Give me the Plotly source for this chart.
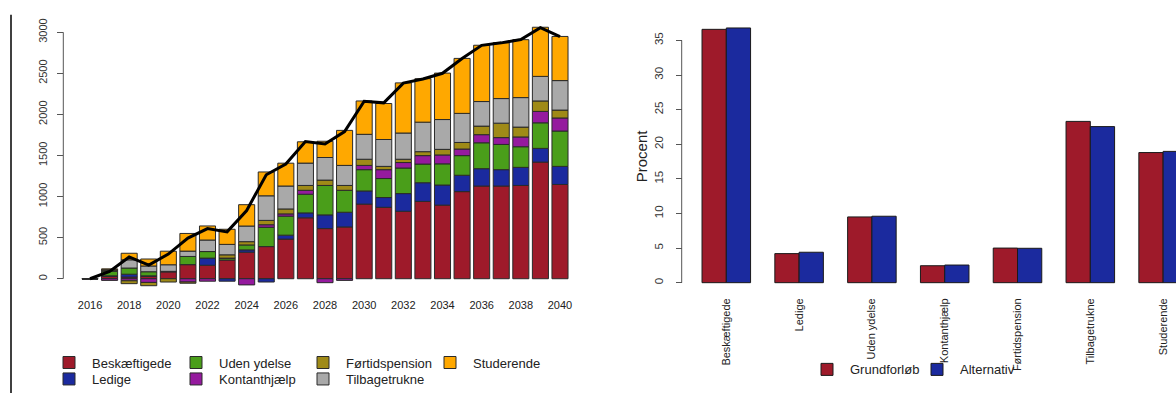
import plotly.graph_objects as go

# left chart: change in population by status, 2016-2040
years = list(range(2016, 2041))
beskaeftigede = [0, 30, 20, 30, 85, 172, 164, 227, 323, 391, 482, 741, 610, 630, 908, 869, 821, 941, 896, 1060, 1128, 1128, 1135, 1419, 1147]
ledige = [0, 5, 35, 5, 0, 0, 87, -30, 28, -40, 48, 60, 167, 179, 160, 119, 215, 227, 244, 199, 211, 199, 220, 167, 220]
uden_ydelse = [0, 55, 75, 50, 5, 99, 80, 24, 60, 235, 231, 227, 358, 267, 259, 231, 311, 227, 258, 239, 315, 307, 251, 311, 430]
kontanthjaelp = [0, -20, -25, -45, 0, -40, -30, 0, -75, 31, 28, 48, -48, -20, 52, 108, 67, 103, 108, 80, 99, 83, 119, 139, 159]
fortidspension = [0, 15, -35, -40, -40, -15, 0, 40, 40, 53, 60, 59, 65, 59, 75, 40, 40, 48, 68, 80, 104, 176, 120, 127, 96]
tilbagetrukne = [0, 5, 100, 70, 80, 65, 140, 127, 190, 299, 279, 272, 275, 244, 303, 327, 319, 359, 363, 354, 299, 299, 359, 299, 359]
studerende = [0, 10, 80, 85, 165, 215, 171, 184, 260, 290, 278, 259, 198, 426, 406, 438, 610, 529, 565, 669, 685, 681, 705, 598, 537]
total = [0, 90, 265, 165, 300, 495, 610, 570, 830, 1265, 1395, 1670, 1640, 1790, 2160, 2140, 2380, 2430, 2500, 2680, 2840, 2870, 2910, 3055, 2945]

# right chart: shares in percent
kategorier = ["Beskæftigede", "Ledige", "Uden ydelse", "Kontanthjælp",
              "Førtidspension", "Tilbagetrukne", "Studerende"]
grundforloeb = [36.6, 4.2, 9.5, 2.45, 5.0, 23.3, 18.8]
alternativ = [36.8, 4.4, 9.6, 2.55, 4.97, 22.55, 18.97]

RED = "#9e1a2a"
BLUE = "#1b2a9e"
GREEN = "#4a9e1a"
PURPLE = "#951a9e"
OLIVE = "#9f8a17"
GREY = "#a9a9a9"
ORANGE = "#ffa800"
FONT = "Liberation Sans, Arial, sans-serif"

W, H = 1176, 394

fig = go.Figure()

series = [
    ("Beskæftigede", beskaeftigede, RED, "legend", 1),
    ("Ledige", ledige, BLUE, "legend3", 5),
    ("Uden ydelse", uden_ydelse, GREEN, "legend", 2),
    ("Kontanthjælp", kontanthjaelp, PURPLE, "legend3", 6),
    ("Førtidspension", fortidspension, OLIVE, "legend", 3),
    ("Tilbagetrukne", tilbagetrukne, GREY, "legend3", 7),
    ("Studerende", studerende, ORANGE, "legend", 4),
]
for name, vals, col, leg, rank in series:
    fig.add_trace(go.Bar(
        x=years, y=vals, name=name, legend=leg, legendrank=rank,
        marker=dict(color=col, line=dict(color="#2a2a2a", width=1)),
        xaxis="x", yaxis="y",
    ))

fig.add_trace(go.Scatter(
    x=years, y=total, mode="lines", line=dict(color="black", width=3),
    showlegend=False, xaxis="x", yaxis="y",
))

fig.add_trace(go.Bar(
    x=kategorier, y=grundforloeb, name="Grundforløb", legend="legend2",
    base=[0] * len(kategorier), width=1 / 3, offset=-1 / 3,
    marker=dict(color=RED, line=dict(color="#1a1a1a", width=1)),
    xaxis="x2", yaxis="y2",
))
fig.add_trace(go.Bar(
    x=kategorier, y=alternativ, name="Alternativ", legend="legend2",
    base=[0] * len(kategorier), width=1 / 3, offset=0,
    marker=dict(color=BLUE, line=dict(color="#1a1a1a", width=1)),
    xaxis="x2", yaxis="y2",
))

left_axis = 63.3 / W
right_axis = 681.7 / W

legend_common = dict(
    orientation="h", xanchor="left", yanchor="middle",
    font=dict(family=FONT, size=13, color="#222"),
    bgcolor="rgba(0,0,0,0)", entrywidthmode="pixels", itemwidth=36,
)

fig.update_layout(
    width=W, height=H,
    margin=dict(l=0, r=0, t=0, b=0),
    paper_bgcolor="white", plot_bgcolor="white",
    barmode="relative", bargap=0.18,
    font=dict(family=FONT, color="#333"),
    xaxis=dict(
        domain=[76.3 / W, 573.7 / W], range=[2015.3, 2040.7],
        tickvals=years[::2], ticks="", showgrid=False, zeroline=False,
        showline=False, tickfont=dict(size=11, color="#222"), anchor="y",
        ticklabelstandoff=2,
    ),
    yaxis=dict(
        domain=[0.2528, 0.9536], range=[-200, 3100],
        anchor="free", position=left_axis,
        tickvals=[0, 500, 1000, 1500, 2000, 2500, 3000],
        ticks="outside", ticklen=6, tickcolor="#555", tickangle=-90,
        ticklabelstandoff=6,
        showgrid=False, zeroline=False, showline=False,
        tickfont=dict(size=11, color="#333"),
    ),
    xaxis2=dict(
        domain=[690 / W, 1.0], range=[-0.4986, 6.177], type="category",
        ticks="", tickangle=-90, showgrid=False, zeroline=False,
        showline=False, tickfont=dict(size=11, color="#222"), anchor="y2",
        ticklabelstandoff=9,
    ),
    yaxis2=dict(
        domain=[0.2761, 0.9558], range=[-0.5, 37.5],
        anchor="free", position=right_axis,
        tickvals=[0, 5, 10, 15, 20, 25, 30, 35],
        ticks="outside", ticklen=6, tickcolor="#555", tickangle=-90,
        ticklabelstandoff=8,
        showgrid=False, zeroline=False, showline=False,
        tickfont=dict(size=11.5, color="#333"),
    ),
    legend=dict(x=46 / W, y=(H - 363) / H, entrywidth=76, **legend_common),
    legend3=dict(x=46 / W, y=(H - 380) / H, entrywidth=76, **legend_common),
    legend2=dict(x=804 / W, y=(H - 370) / H, entrywidth=59, **legend_common),
    shapes=[
        dict(type="line", xref="paper", yref="y", x0=left_axis, x1=left_axis,
             y0=0, y1=3000, line=dict(color="#555", width=1)),
        dict(type="line", xref="paper", yref="y2", x0=right_axis, x1=right_axis,
             y0=0, y1=35, line=dict(color="#555", width=1)),
        dict(type="line", xref="paper", yref="paper", x0=11 / W, x1=11 / W,
             y0=0, y1=(H - 9) / H, line=dict(color="black", width=1.5)),
    ],
    annotations=[
        dict(text="Procent", xref="paper", yref="paper", x=641 / W,
             y=(H - 153) / H, textangle=-90, showarrow=False,
             font=dict(family=FONT, size=15, color="#222")),
    ],
)

fig.write_html("out.html", config={"displayModeBar": False},
               post_script="document.body.style.margin='0';")
